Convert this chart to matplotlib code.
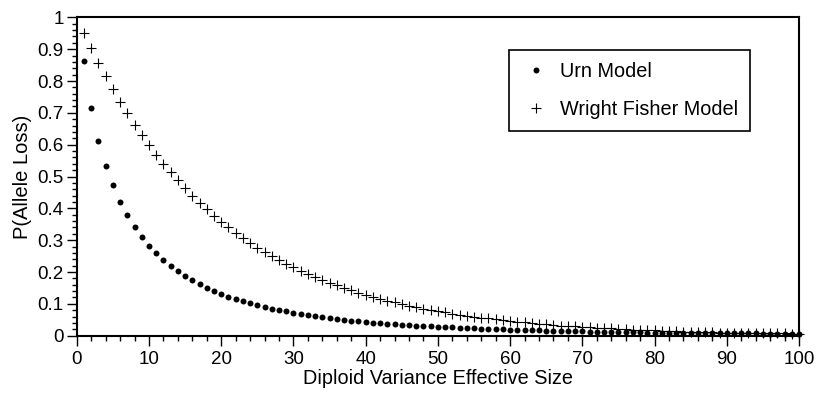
import numpy as np
import matplotlib.pyplot as plt
from matplotlib.ticker import MultipleLocator

plt.rcParams['font.family'] = ['Liberation Sans', 'DejaVu Sans']

ne = list(range(1, 101))

urn = [0.862, 0.714, 0.612, 0.534, 0.472, 0.421, 0.378, 0.341, 0.310, 0.283,
       0.259, 0.238, 0.219, 0.202, 0.188, 0.174, 0.162, 0.151, 0.140, 0.132,
       0.123, 0.115, 0.109, 0.102, 0.096, 0.090, 0.085, 0.080, 0.076, 0.072,
       0.068, 0.064, 0.061, 0.058, 0.055, 0.052, 0.050, 0.047, 0.045, 0.043,
       0.041, 0.039, 0.037, 0.036, 0.034, 0.033, 0.031, 0.030, 0.029, 0.028,
       0.027, 0.026, 0.025, 0.024, 0.023, 0.022, 0.021, 0.021, 0.020, 0.019,
       0.019, 0.018, 0.017, 0.017, 0.016, 0.016, 0.015, 0.015, 0.014, 0.014,
       0.013, 0.013, 0.013, 0.012, 0.012, 0.011, 0.011, 0.011, 0.010, 0.010,
       0.010, 0.009, 0.009, 0.009, 0.009, 0.008, 0.008, 0.008, 0.008, 0.007,
       0.007, 0.007, 0.007, 0.007, 0.006, 0.006, 0.006, 0.006, 0.006, 0.005]

wright_fisher = [0.950, 0.903, 0.857, 0.815, 0.774, 0.735, 0.698, 0.663, 0.630, 0.599,
                 0.569, 0.540, 0.513, 0.488, 0.463, 0.440, 0.418, 0.397, 0.377, 0.358,
                 0.341, 0.324, 0.307, 0.292, 0.277, 0.264, 0.250, 0.238, 0.226, 0.215,
                 0.204, 0.194, 0.184, 0.175, 0.166, 0.158, 0.150, 0.142, 0.135, 0.129,
                 0.122, 0.116, 0.110, 0.105, 0.099, 0.094, 0.090, 0.085, 0.081, 0.077,
                 0.073, 0.069, 0.066, 0.063, 0.060, 0.057, 0.054, 0.051, 0.049, 0.046,
                 0.044, 0.042, 0.040, 0.038, 0.036, 0.034, 0.032, 0.031, 0.029, 0.028,
                 0.026, 0.025, 0.024, 0.023, 0.021, 0.020, 0.019, 0.018, 0.017, 0.017,
                 0.016, 0.015, 0.014, 0.013, 0.013, 0.012, 0.012, 0.011, 0.010, 0.010,
                 0.009, 0.009, 0.009, 0.008, 0.008, 0.007, 0.007, 0.007, 0.006, 0.006]

fig = plt.figure(figsize=(8.17, 3.94), dpi=100)
ax = fig.add_axes([0.0939, 0.148, 0.8841, 0.808])

ax.plot(ne, urn, 'o', color='black', markersize=4.3, markeredgewidth=0,
        label='Urn Model', clip_on=False)
ax.plot(ne, wright_fisher, '+', color='black', markersize=6.5, markeredgewidth=0.8,
        label='Wright Fisher Model', clip_on=False)

ax.set_xlim(0, 100)
ax.set_ylim(0, 1)
ax.xaxis.set_major_locator(MultipleLocator(10))
ax.xaxis.set_minor_locator(MultipleLocator(2))
ax.yaxis.set_major_locator(MultipleLocator(0.1))
ax.yaxis.set_minor_locator(MultipleLocator(0.02))
ax.yaxis.set_major_formatter(plt.FuncFormatter(lambda v, p: '{:g}'.format(round(v, 1))))

ax.tick_params(which='both', direction='out', top=False, right=False, width=1, labelsize=13.5)
ax.tick_params(which='major', length=7)
ax.tick_params(which='minor', length=3.6)
ax.tick_params(axis='y', pad=2.5)
ax.tick_params(axis='x', pad=4)
for s in ax.spines.values():
    s.set_linewidth(1.5)

ax.set_xlabel('Diploid Variance Effective Size', fontsize=14.3, labelpad=1)
ax.set_ylabel('P(Allele Loss)', fontsize=14.5, labelpad=4)

leg = ax.legend(loc='upper left', bbox_to_anchor=(0.5985, 0.897), borderaxespad=0,
                fontsize=14.3, fancybox=False, framealpha=1, edgecolor='black',
                borderpad=0.6, labelspacing=0.95, handlelength=1.5, handletextpad=0.45)
leg.get_frame().set_linewidth(1.2)

plt.savefig('out.png', dpi=100)
